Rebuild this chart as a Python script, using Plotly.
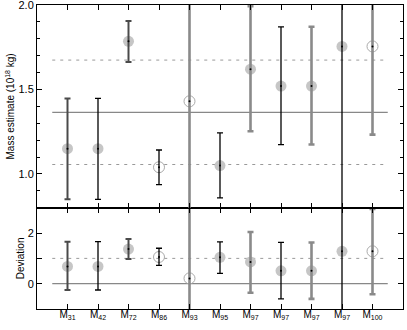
import plotly.graph_objects as go

# categories (subscript numbers of M)
labels = ["31", "42", "72", "86", "93", "95", "97", "97", "97", "97", "100"]
ticktext = ["M<sub>%s</sub>" % s for s in labels]
xpos = list(range(1, len(labels) + 1))

# top panel: mass estimate (10^18 kg)
mass = [1.15, 1.15, 1.785, 1.04, 1.43, 1.05, 1.62, 1.52, 1.52, 1.755, 1.755]
mass_hi = [1.447, 1.447, 1.906, 1.142, 2.6, 1.243, 1.993, 1.871, 1.871, 2.6, 2.3]
mass_lo = [0.85, 0.85, 1.662, 0.937, 0.2, 0.858, 1.253, 1.174, 1.174, 0.2, 1.233]
mass_mean = 1.365
mass_sig = [1.056, 1.674]

# bottom panel: deviation
dev = [0.68, 0.68, 1.37, 1.055, 0.21, 1.04, 0.86, 0.51, 0.51, 1.28, 1.28]
dev_hi = [1.66, 1.66, 1.77, 1.40, 5.0, 1.65, 2.04, 1.63, 1.63, 5.0, 2.95]
dev_lo = [-0.25, -0.25, 0.98, 0.72, -3.0, 0.41, -0.36, -0.60, -0.60, -3.0, -0.42]

filled = [1, 1, 1, 0, 0, 1, 1, 1, 1, 1, 0]
# error bar style per point
estyle = ["dk", "k", "dk", "k", "g", "k", "g", "k", "g", "k", "g"]
styles = {"k": ("black", 1.3), "dk": ("#4a4a4a", 2), "g": ("#8a8a8a", 2.6)}

fig = go.Figure()


def add_panel(vals, hi, lo, xa, ya, hlines):
    # reference lines
    fig.add_trace(go.Scatter(x=[0.5, 11.5], y=[hlines[0]] * 2, mode="lines",
                             line=dict(color="#888", width=1.3),
                             xaxis=xa, yaxis=ya, showlegend=False, hoverinfo="skip"))
    for v in hlines[1:]:
        fig.add_trace(go.Scatter(x=[0.5, 11.5], y=[v] * 2, mode="lines",
                                 line=dict(color="#999", width=1, dash="3px,5px"),
                                 xaxis=xa, yaxis=ya, showlegend=False, hoverinfo="skip"))
    # filled and open markers
    fx = [x for x, f in zip(xpos, filled) if f]
    fy = [v for v, f in zip(vals, filled) if f]
    ox = [x for x, f in zip(xpos, filled) if not f]
    oy = [v for v, f in zip(vals, filled) if not f]
    fig.add_trace(go.Scatter(x=fx, y=fy, mode="markers",
                             marker=dict(size=11, color="#c6c6c6", line=dict(width=0)),
                             xaxis=xa, yaxis=ya, showlegend=False))
    fig.add_trace(go.Scatter(x=ox, y=oy, mode="markers",
                             marker=dict(size=11, color="rgba(0,0,0,0)",
                                         line=dict(width=1, color="#aaa")),
                             xaxis=xa, yaxis=ya, showlegend=False))
    # error bars grouped by style
    for key, (col, w) in styles.items():
        idx = [i for i, s in enumerate(estyle) if s == key]
        fig.add_trace(go.Scatter(
            x=[xpos[i] for i in idx], y=[vals[i] for i in idx], mode="markers",
            marker=dict(size=2, color="black"),
            error_y=dict(type="data", symmetric=False,
                         array=[hi[i] - vals[i] for i in idx],
                         arrayminus=[vals[i] - lo[i] for i in idx],
                         color=col, thickness=w, width=3),
            xaxis=xa, yaxis=ya, showlegend=False, cliponaxis=True))


add_panel(mass, mass_hi, mass_lo, "x2", "y2", [mass_mean] + mass_sig)
add_panel(dev, dev_hi, dev_lo, "x", "y", [0, 1])

font = dict(family="Liberation Sans, Arial, sans-serif", size=11, color="black")
axcommon = dict(showgrid=False, zeroline=False, showline=True, linecolor="black",
                linewidth=1, mirror="ticks", ticks="inside", ticklen=5,
                tickcolor="black", tickwidth=1, automargin=False,
                ticklabeloverflow="allow")

fig.update_layout(
    width=407, height=330,
    margin=dict(l=37, r=4, t=5, b=21, autoexpand=False),
    paper_bgcolor="white", plot_bgcolor="white",
    font=font, showlegend=False,
    xaxis=dict(range=[0, 12], tickvals=xpos, ticktext=ticktext, domain=[0, 1],
               anchor="y", tickfont=dict(size=10, color="black"),
               ticklabelstandoff=-4, **axcommon),
    yaxis=dict(range=[-1, 3], domain=[0, 0.333], tickvals=[0, 1, 2],
               ticktext=["0", "", "2"], anchor="x",
               title=dict(text="Deviation", standoff=1, font=dict(size=10)),
               **axcommon),
    xaxis2=dict(range=[0, 12], tickvals=xpos, showticklabels=False, domain=[0, 1],
                anchor="y2", **axcommon),
    yaxis2=dict(range=[0.8, 2.0], domain=[0.333, 1], tickvals=[1.0, 1.5, 2.0],
                ticktext=["1.0", "1.5", "2.0"], anchor="x2",
                minor=dict(dtick=0.1, tick0=0.8, ticks="inside", ticklen=3,
                           tickcolor="black"),
                title=dict(text="Mass estimate (10<sup>18</sup> kg)", standoff=1,
                           font=dict(size=10)),
                **axcommon),
)

fig.write_html("out.html", config={"displayModeBar": False},
               post_script="document.body.style.margin='0';")
